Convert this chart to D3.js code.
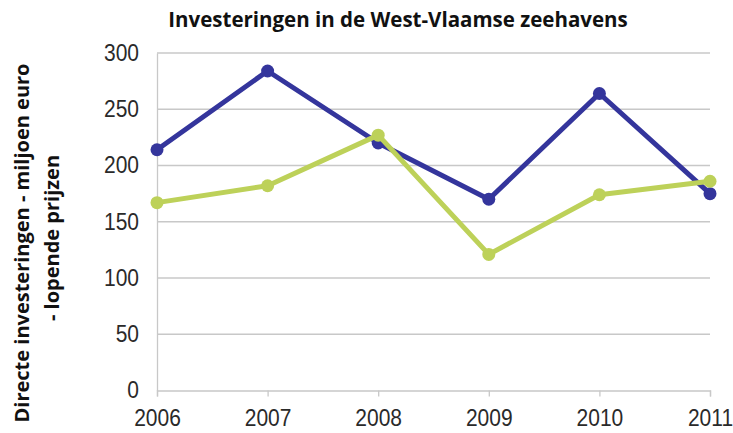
<!DOCTYPE html>
<html>
<head>
<meta charset="utf-8">
<script src="https://cdn.jsdelivr.net/npm/d3@7"></script>
<style>
  body { margin: 0; background: #fff; }
  svg { display: block; }
</style>
</head>
<body>
<script>
var width = 733;
var height = 433;

// data
var years = [2006, 2007, 2008, 2009, 2010, 2011];
var blueSeries = [214, 284, 220, 170, 264, 175];
var greenSeries = [167, 182, 227, 121, 174, 186];
var yTicks = [0, 50, 100, 150, 200, 250, 300];

var stretch = "scale(1,1.15)"; // source image is a bit taller than wide

var svg = d3.select("body").append("svg")
  .attr("width", width)
  .attr("height", height);

// scales
var xScale = d3.scalePoint()
  .domain(years)
  .range([157, 710]);

var yScale = d3.scaleLinear()
  .domain([0, 300])
  .range([390.5, 53]);

// gridlines
svg.append("g")
  .selectAll("line")
  .data(yTicks.filter(function(d) { return d > 0; }))
  .enter().append("line")
    .attr("x1", xScale(2006))
    .attr("x2", xScale(2011))
    .attr("y1", function(d) { return yScale(d); })
    .attr("y2", function(d) { return yScale(d); })
    .attr("stroke", "#c8c8c8")
    .attr("stroke-width", 1.3);

// y axis
var yAxis = d3.axisLeft(yScale)
  .tickValues(yTicks)
  .tickSize(0)
  .tickPadding(18);

var gy = svg.append("g")
  .attr("transform", "translate(" + xScale(2006) + ",0)")
  .call(yAxis);
gy.select(".domain").attr("stroke", "#c8c8c8").attr("stroke-width", 1.3);
gy.selectAll("text")
  .attr("font-family", "Liberation Sans, Arial, sans-serif")
  .attr("font-size", 21)
  .attr("fill", "#2a2a2a")
  .attr("dy", "0.3em")
  .attr("transform", stretch);

// x axis
var xAxis = d3.axisBottom(xScale)
  .tickSize(6);

var gx = svg.append("g")
  .attr("transform", "translate(0," + yScale(0) + ")")
  .call(xAxis);
gx.select(".domain").attr("stroke", "#c8c8c8").attr("stroke-width", 1.3);
gx.selectAll("line").attr("stroke", "#c8c8c8").attr("stroke-width", 1.3);
gx.selectAll("text")
  .attr("font-family", "Liberation Sans, Arial, sans-serif")
  .attr("font-size", 21)
  .attr("fill", "#2a2a2a")
  .attr("y", 30.9)
  .attr("dy", 0)
  .attr("transform", stretch);

// lines
var line = d3.line()
  .x(function(d, i) { return xScale(years[i]); })
  .y(function(d) { return yScale(d); });

function drawSeries(values, color) {
  svg.append("path")
    .datum(values)
    .attr("d", line)
    .attr("fill", "none")
    .attr("stroke", color)
    .attr("stroke-width", 5)
    .attr("stroke-linejoin", "round");
  svg.append("g")
    .selectAll("circle")
    .data(values)
    .enter().append("circle")
      .attr("cx", function(d, i) { return xScale(years[i]); })
      .attr("cy", function(d) { return yScale(d); })
      .attr("r", 6.5)
      .attr("fill", color);
}

drawSeries(blueSeries, "#34359c");
drawSeries(greenSeries, "#bdd159");

// title
svg.append("text")
  .attr("x", 398)
  .attr("y", 26.5)
  .attr("text-anchor", "middle")
  .attr("font-family", "Open Sans, sans-serif")
  .attr("font-weight", "bold")
  .attr("font-size", 20.5)
  .attr("fill", "#111")
  .text("Investeringen in de West-Vlaamse zeehavens");

// y axis title
var yTitle = svg.append("text")
  .attr("transform", "translate(0,243) rotate(-90)")
  .attr("text-anchor", "middle")
  .attr("font-family", "Open Sans, sans-serif")
  .attr("font-weight", "bold")
  .attr("font-size", 20)
  .attr("fill", "#111");
yTitle.append("tspan").attr("x", 0).attr("y", 28.5).text("Directe investeringen - miljoen euro");
yTitle.append("tspan").attr("x", 5).attr("y", 58.5).text("- lopende prijzen");
</script>
</body>
</html>
